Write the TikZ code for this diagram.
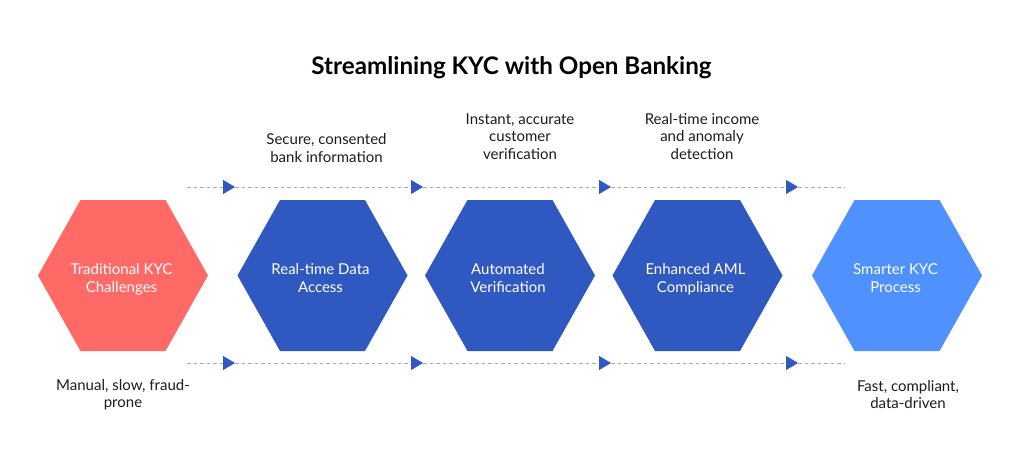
\documentclass[tikz,border=0pt]{standalone}
\usepackage{fontspec}
\setmainfont{Lato}
\usetikzlibrary{arrows.meta}

\definecolor{hexred}{HTML}{FF6966}
\definecolor{hexblue}{HTML}{2F58C1}
\definecolor{hexlight}{HTML}{4F92FF}
\definecolor{dashgray}{HTML}{A9ACB4}
\definecolor{captext}{HTML}{1C1C1C}

\tikzset{
  hexlabel/.style={text=white, align=center, inner sep=0pt,
    font=\fontsize{15}{17.5}\selectfont},
  caption/.style={text=captext, align=center, inner sep=0pt,
    font=\fontsize{15}{17.5}\selectfont},
  flowend/.style={dashgray, dash pattern=on 3.5pt off 3pt, line width=0.8pt},
  flowline/.style={flowend, -{Triangle[length=12pt, width=14pt, color=hexblue]}}
}

\begin{document}
\begin{tikzpicture}[x=1pt, y=-1pt]

    \useasboundingbox (0, 0) rectangle (1024, 469);

    \coordinate (TS) at (187, 187);
    \coordinate (TA) at (235, 187);
    \coordinate (TB) at (423, 187);
    \coordinate (TC) at (611, 187);
    \coordinate (TD) at (798, 187);
    \coordinate (TE) at (845, 187);

    \coordinate (BS) at (187, 363);
    \coordinate (BA) at (235, 363);
    \coordinate (BB) at (423, 363);
    \coordinate (BC) at (611, 363);
    \coordinate (BD) at (798, 363);
    \coordinate (BE) at (845, 363);

    \draw[flowline] (TS) -- (TA);
    \draw[flowline] (TA) -- (TB);
    \draw[flowline] (TB) -- (TC);
    \draw[flowline] (TC) -- (TD);
    \draw[flowend] (TD) -- (TE);

    \draw[flowline] (BS) -- (BA);
    \draw[flowline] (BA) -- (BB);
    \draw[flowline] (BB) -- (BC);
    \draw[flowline] (BC) -- (BD);
    \draw[flowend] (BD) -- (BE);

    \coordinate (trad) at (123, 275.5);
    \coordinate (data) at (322.5, 275.5);
    \coordinate (verif) at (510, 275.5);
    \coordinate (aml) at (697.5, 275.5);
    \coordinate (smart) at (897, 275.5);

    \fill[hexred] (trad) ++(-85, 0) -- ++(42.5, -75.5) -- ++(85, 0) -- ++(42.5, 75.5)
      -- ++(-42.5, 75.5) -- ++(-85, 0) -- cycle;
    \fill[hexblue] (data) ++(-85, 0) -- ++(42.5, -75.5) -- ++(85, 0) -- ++(42.5, 75.5)
      -- ++(-42.5, 75.5) -- ++(-85, 0) -- cycle;
    \fill[hexblue] (verif) ++(-85, 0) -- ++(42.5, -75.5) -- ++(85, 0) -- ++(42.5, 75.5)
      -- ++(-42.5, 75.5) -- ++(-85, 0) -- cycle;
    \fill[hexblue] (aml) ++(-85, 0) -- ++(42.5, -75.5) -- ++(85, 0) -- ++(42.5, 75.5)
      -- ++(-42.5, 75.5) -- ++(-85, 0) -- cycle;
    \fill[hexlight] (smart) ++(-85, 0) -- ++(42.5, -75.5) -- ++(85, 0) -- ++(42.5, 75.5)
      -- ++(-42.5, 75.5) -- ++(-85, 0) -- cycle;

    \node[hexlabel] (tradText) at (121.5, 279.2) {Traditional KYC\\Challenges};
    \node[hexlabel] (dataText) at (320.5, 278) {Real-time Data\\Access};
    \node[hexlabel] (verifText) at (508, 278) {Automated\\Verification};
    \node[hexlabel] (amlText) at (695.5, 279.2) {Enhanced AML\\Compliance};
    \node[hexlabel] (smartText) at (895.5, 278) {Smarter KYC\\Process};

    \node[font=\fontsize{24.2}{30}\selectfont\bfseries, text=black] (title) at (511.5, 68)
      {Streamlining KYC with Open Banking};

    \node[caption] (dataCap) at (326.5, 148) {Secure, consented\\bank information};
    \node[caption] (verifCap) at (520, 136.5) {Instant, accurate\\customer\\verification};
    \node[caption] (amlCap) at (702, 136.5) {Real-time income\\and anomaly\\detection};
    \node[caption] (tradCap) at (123, 395) {Manual, slow, fraud-\\prone};
    \node[caption] (smartCap) at (908, 394.5) {Fast, compliant,\\data-driven};

\end{tikzpicture}
\end{document}
